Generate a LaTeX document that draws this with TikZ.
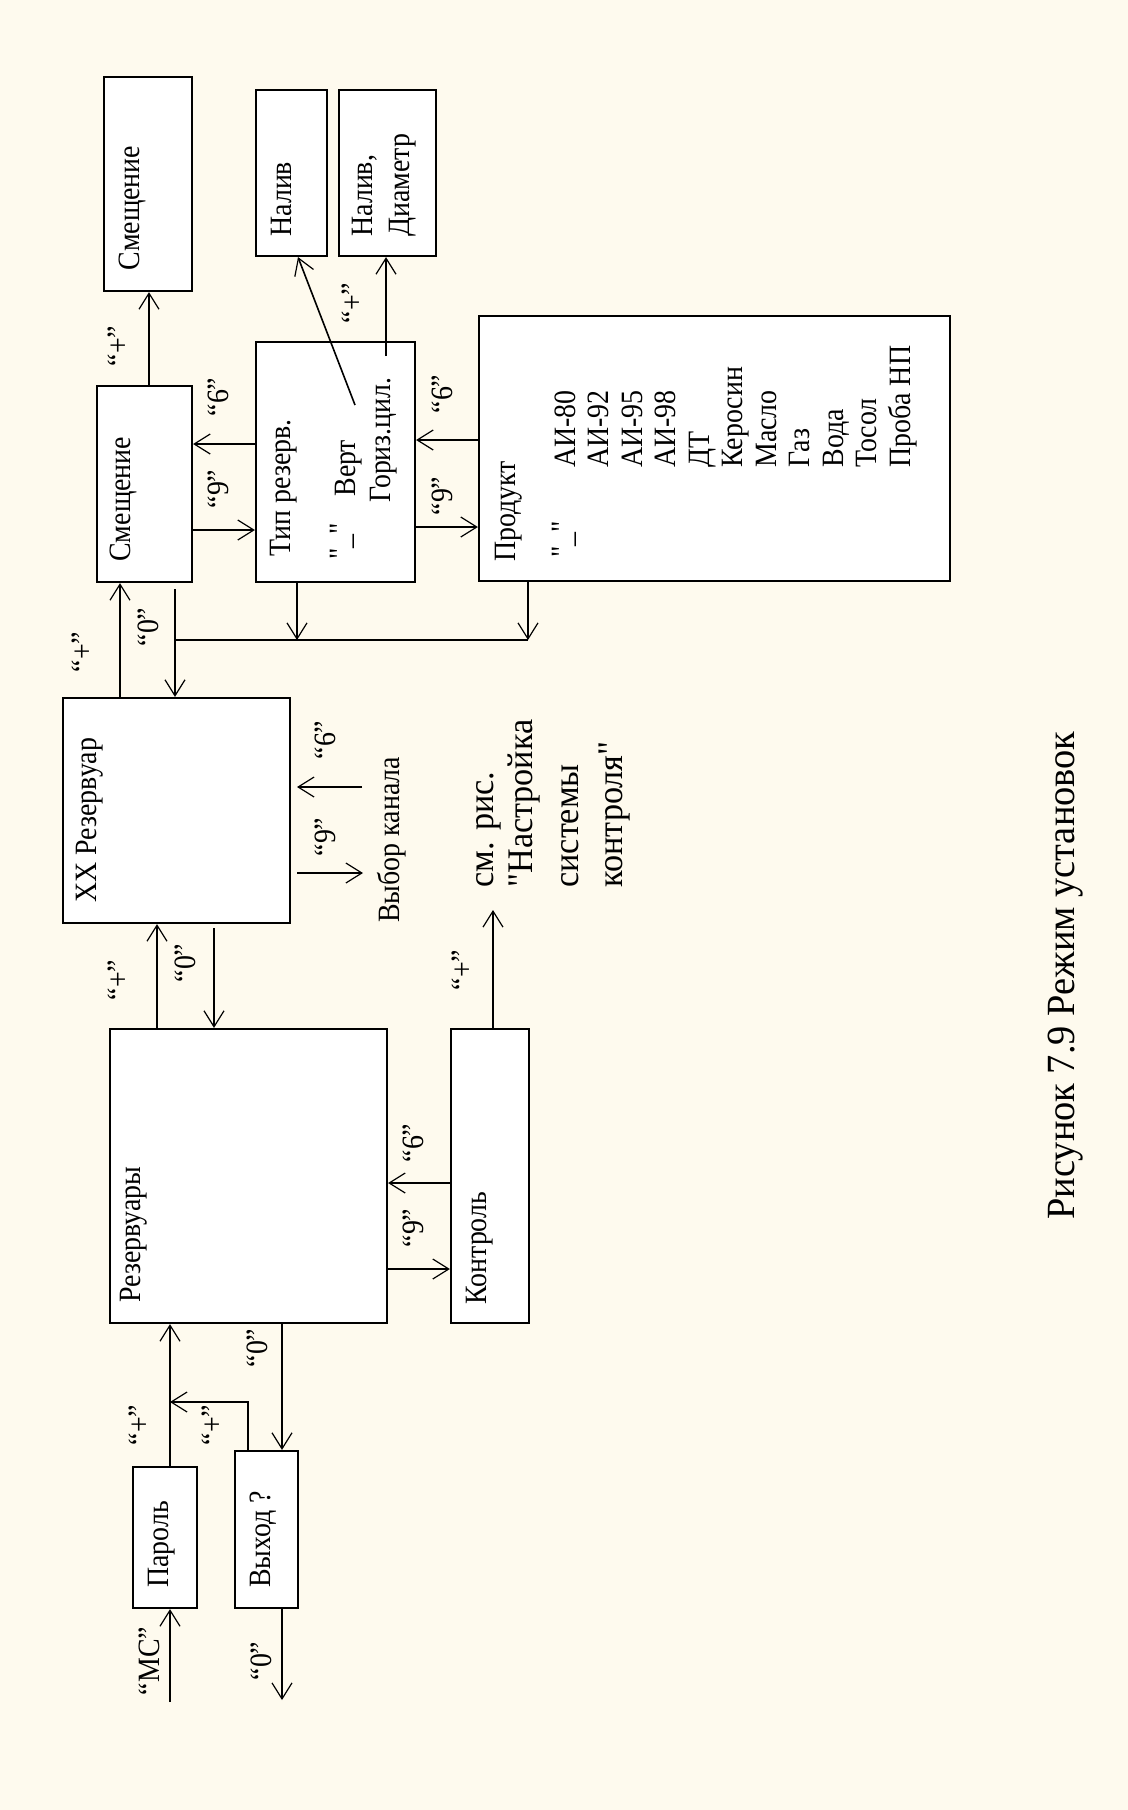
\documentclass[tikz,border=0pt]{standalone}
\usepackage{fontspec}
\newfontfamily\bxfont{Liberation Serif}[FakeStretch=0.9]
\newfontfamily\blfont{Liberation Serif}[FakeStretch=0.95]
\newfontfamily\cpfont{Liberation Serif}[FakeStretch=0.96]
\usetikzlibrary{arrows.meta,fit}
\definecolor{bgc}{RGB}{254,250,238}
\tikzset{
  box/.style={draw=black, line width=1.1pt, fill=white, inner sep=0pt},
  conn/.style={draw=black, line width=0.8pt},
  arr/.style={conn, -{Straight Barb[length=8pt,width=10pt,line width=0.6pt]}},
  txt/.style={rotate=90, anchor=mid west, inner sep=0pt, font=\bxfont\fontsize{15.5pt}{18pt}\selectfont},
  btxt/.style={txt, font=\blfont\fontsize{18pt}{21pt}\selectfont},
  captxt/.style={txt, font=\cpfont\fontsize{20pt}{24pt}\selectfont},
  lbl/.style={rotate=90, inner sep=0pt, font=\bxfont\fontsize{15.5pt}{18pt}\selectfont},
}
\begin{document}
\begin{tikzpicture}[x=0.5pt, y=-0.5pt]
\useasboundingbox (0,0) rectangle (1128,1810);
\fill[bgc] (0,0) rectangle (1128,1810);

% boxes
\node[box, fit={(104,77)(192,291)}] (sm1) {};
\node[box, fit={(256,90)(327,256)}] (nal) {};
\node[box, fit={(339,90)(436,256)}] (nd) {};
\node[box, fit={(97,386)(192,582)}] (sm2) {};
\node[box, fit={(256,342)(415,582)}] (tip) {};
\node[box, fit={(479,316)(950,581)}] (prod) {};
\node[box, fit={(63,698)(290,923)}] (xx) {};
\node[box, fit={(110,1029)(387,1323)}] (rez) {};
\node[box, fit={(451,1029)(529,1323)}] (kon) {};
\node[box, fit={(133,1467)(197,1608)}] (par) {};
\node[box, fit={(235,1451)(298,1608)}] (vyh) {};

% texts
\node[txt] (t1) at (135,271) {Смещение};
\node[txt] (t2) at (126,562) {Смещение};
\node[txt] (t3) at (287,237) {Налив};
\node[txt] (t4) at (368,237) {Налив,};
\node[txt] (t5) at (405,237) {Диаметр};
\node[txt] (t6) at (286,557) {Тип резерв.};
\node[txt] (t7) at (346,560) {"\_"};
\node[txt] (t8) at (351,497) {Верт};
\node[txt] (t9) at (386,503) {Гориз.цил.};
\node[txt] (t10) at (511,562) {Продукт};
\node[txt] (t11) at (568,558) {"\_"};
\foreach \s [count=\i from 0] in {АИ-80,АИ-92,АИ-95,АИ-98,ДТ,Керосин,Масло,Газ,Вода,Тосол,Проба НП}
  \node[txt] (p\i) at ({571+33.5*\i},468) {\s};
\node[txt] (t12) at (92,903) {XX Резервуар};
\node[txt] (t13) at (395,923) {Выбор канала};
\node[btxt] (t14) at (489,888) {см. рис.};
\node[btxt] (t15) at (528,888) {"Настройка};
\node[btxt] (t16) at (574,888) {системы};
\node[btxt] (t17) at (618,888) {контроля"};
\node[txt] (t18) at (136,1303) {Резервуары};
\node[txt] (t19) at (482,1305) {Контроль};
\node[txt] (t20) at (164,1588) {Пароль};
\node[txt] (t21) at (266,1588) {Выход ?};
\node[captxt] (t22) at (1070,1220) {Рисунок 7.9 Режим установок};

% connectors
\draw[arr] (sm2.north -| 149,0) -- (sm1.south -| 149,0);
\node[lbl] (l1) at (118,346) {“+”};
\draw[arr] (tip.west |- 0,444) -- (sm2.east |- 0,444);
\node[lbl] (l2) at (218,397) {“6”};
\draw[arr] (sm2.east |- 0,530) -- (tip.west |- 0,530);
\node[lbl] (l3) at (218,489) {“9”};
\draw[arr] (prod.west |- 0,440) -- (tip.east |- 0,440);
\node[lbl] (l4) at (442,394) {“6”};
\draw[arr] (tip.east |- 0,527) -- (prod.west |- 0,527);
\node[lbl] (l5) at (442,496) {“9”};

\coordinate (vs) at (355,405);
\draw[arr] (vs) -- (nal.south -| 298,0);
\coordinate (gs) at (386,356);
\draw[arr] (gs) -- (nd.south -| gs);
\node[lbl] (l6) at (352,303) {“+”};

\draw[arr] (xx.north -| 120,0) -- (sm2.south -| 120,0);
\node[lbl] (l7) at (82,652) {“+”};

\coordinate (s0) at (175,589);
\coordinate (bl) at (175,640);
\coordinate (bm) at (297,640);
\coordinate (br) at (528,640);
\draw[arr] (s0) -- (xx.north -| s0);
\draw[conn] (bl) -- (br);
\draw[arr] (tip.south -| bm) -- (bm);
\draw[arr] (prod.south -| br) -- (br);
\node[lbl] (l8) at (148,627) {“0”};

\coordinate (a6s) at (362,787);
\coordinate (a6e) at (297,787);
\draw[arr] (a6s) -- (a6e);
\coordinate (a9s) at (297,873);
\coordinate (a9e) at (363,873);
\draw[arr] (a9s) -- (a9e);
\node[lbl] (l9) at (325,740) {“6”};
\node[lbl] (l10) at (325,837) {“9”};

\draw[arr] (rez.north -| 157,0) -- (xx.south -| 157,0);
\node[lbl] (l11) at (118,980) {“+”};
\coordinate (x0) at (214,928);
\draw[arr] (x0) -- (rez.north -| x0);
\node[lbl] (l12) at (185,963) {“0”};

\draw[arr] (kon.west |- 0,1183) -- (rez.east |- 0,1183);
\node[lbl] (l13) at (413,1143) {“6”};
\draw[arr] (rez.east |- 0,1269) -- (kon.west |- 0,1269);
\node[lbl] (l14) at (413,1228) {“9”};
\coordinate (kt) at (493,910);
\draw[arr] (kon.north -| kt) -- (kt);
\node[lbl] (l15) at (462,970) {“+”};

\draw[arr] (par.north -| 170,0) -- (rez.south -| 170,0);
\node[lbl] (l16) at (139,1425) {“+”};
\coordinate (jn) at (170,1402);
\draw[arr] (vyh.north -| 248,0) |- (jn);
\node[lbl] (l17) at (212,1425) {“+”};
\draw[arr] (rez.south -| 282,0) -- (vyh.north -| 282,0);
\node[lbl] (l18) at (257,1348) {“0”};
\coordinate (ms) at (170,1702);
\draw[arr] (ms) -- (par.south -| ms);
\node[lbl] (l19) at (149,1661) {“МС”};
\coordinate (vo) at (282,1700);
\draw[arr] (vyh.south -| vo) -- (vo);
\node[lbl] (l20) at (261,1661) {“0”};
\end{tikzpicture}
\end{document}
